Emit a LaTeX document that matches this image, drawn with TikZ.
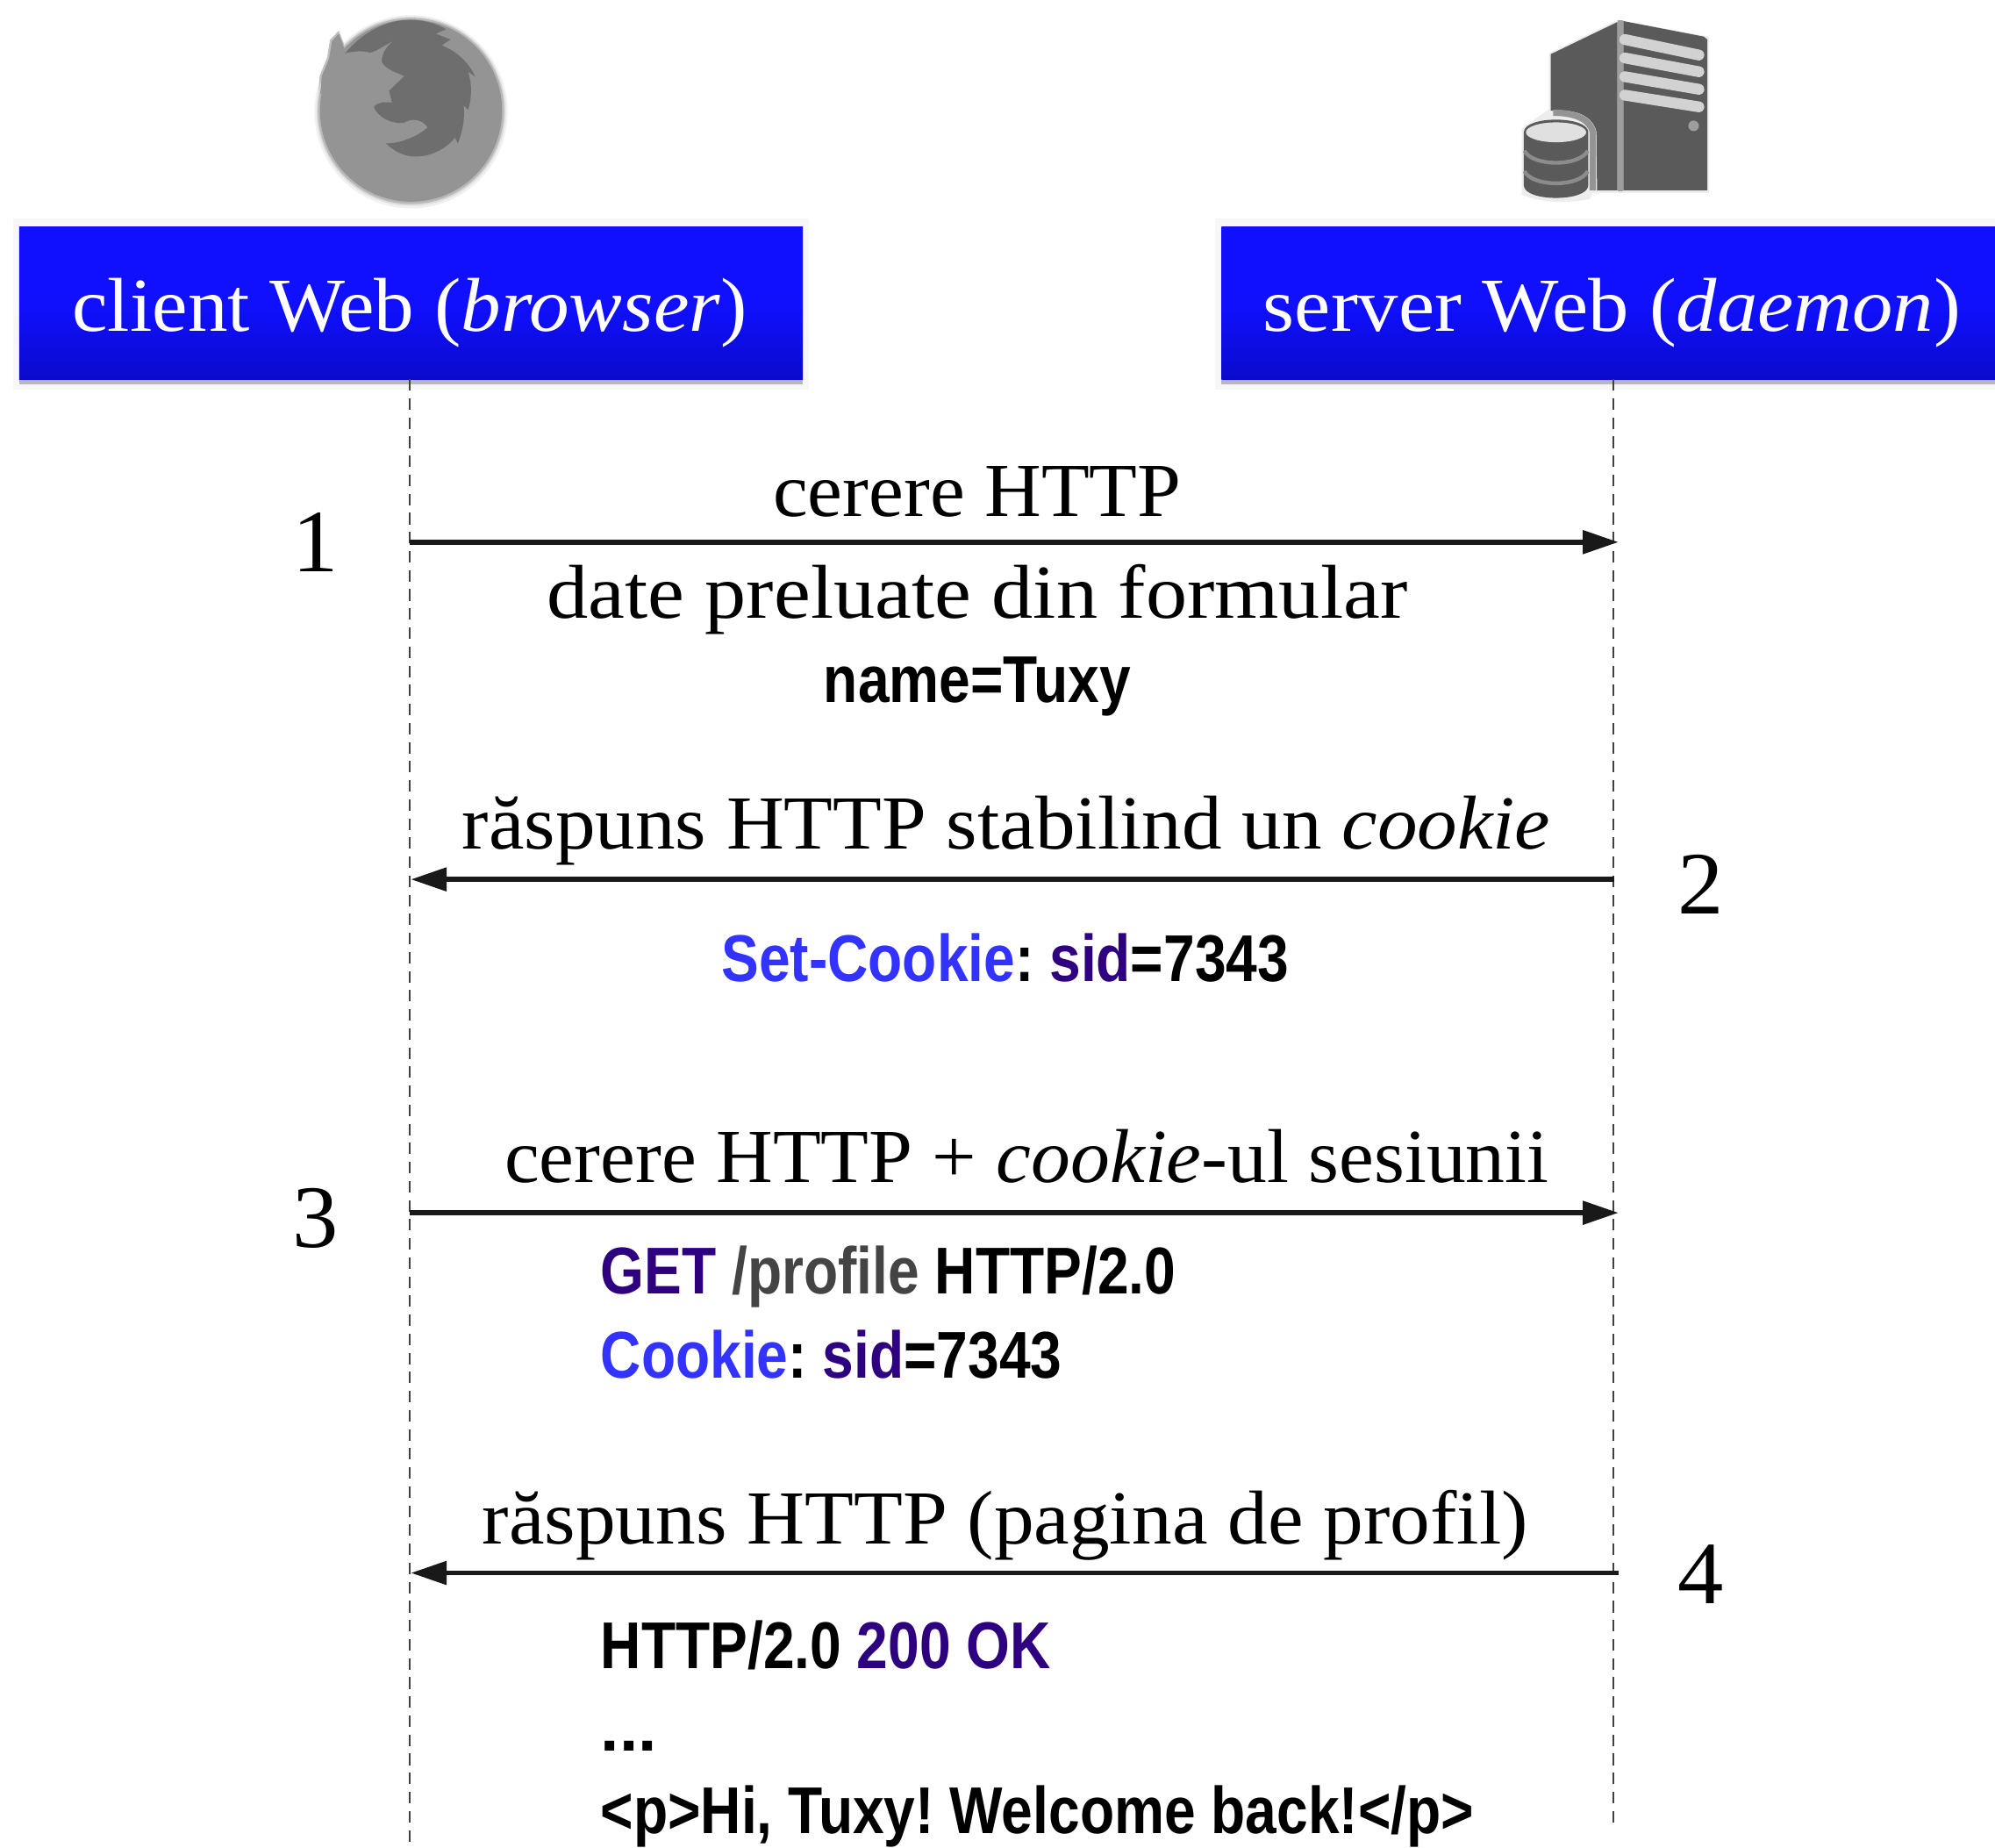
\documentclass[tikz,border=0pt]{standalone}
\usepackage{fontspec}
\setmainfont[FakeStretch=1.03]{Liberation Serif}
\newfontfamily\codefont[FakeStretch=0.85]{Liberation Sans}
\usetikzlibrary{arrows.meta}
\definecolor{hdrtop}{HTML}{1010FF}
\definecolor{hdrbot}{HTML}{0A0ACC}
\definecolor{kwblue}{HTML}{3333FF}
\definecolor{kwpurple}{HTML}{2E0080}
\definecolor{kwgray}{HTML}{444444}
\definecolor{foxlight}{HTML}{949494}
\definecolor{foxdark}{HTML}{6E6E6E}
\definecolor{srvdark}{HTML}{5A5A5A}
\definecolor{srvlight}{HTML}{D2D2D2}
\tikzset{
  x=1pt,y=-1pt,
  hdrbox/.style={minimum width=615pt,minimum height=120pt,inner sep=0pt,draw=none,top color=hdrtop,bottom color=hdrbot,middle color=hdrtop,text=white},
  lbl/.style={anchor=base,inner sep=0pt,font=\fontsize{60}{60}\selectfont,text=black},
  num/.style={anchor=base,inner sep=0pt,font=\fontsize{70}{70}\selectfont,text=black},
  code/.style={anchor=base,inner sep=0pt,font=\codefont\bfseries\fontsize{52}{52}\selectfont,text=black},
  codel/.style={code,anchor=base west},
  life/.style={draw=black!75,line width=1.8pt,dash pattern=on 9pt off 6pt},
  msg/.style={draw=black!90,line width=3.8pt,-{Triangle[length=28pt,width=18pt]}},
  shadow/.style={fill=black!28,draw=none}
}
\begin{document}
\begin{tikzpicture}
\frenchspacing
\useasboundingbox (0,0) rectangle (1568,1452);
\fill[white] (0,0) rectangle (1568,1452);
% header halos and shadows
\fill[black!3] (10,172) rectangle (636,306);
\fill[black!3] (955,172) rectangle (1568,306);
\fill[shadow] (15,290) rectangle (631,302);
\fill[shadow] (960,290) rectangle (1568,302);
% lifelines' heads
\node[hdrbox,minimum width=616pt] (client) at (323,238) {\strut};
\node[hdrbox,minimum width=608pt] (server) at (1264,238) {\strut};
\node[lbl,text=white] (clientlbl) at (322,260) {\scalebox{1.017}[1]{client Web (\textit{browser})}};
\node[lbl,text=white] (serverlbl) at (1267,260) {\scalebox{1.034}[1]{server Web (\textit{daemon})}};
% firefox
\begin{scope}[shift={(206.9,0)},x=0.23pt,y=-0.23pt]
  \fill[black!6] (505,382) circle (330);
  \fill[black!25] (188,322) -- (193,258) -- (218,198) -- (228,136) -- (258,105) -- (292,190) -- (400,300) -- cycle;
  \fill[black!14] (505,380) circle (323);
  \fill[black!28] (505,379) circle (318);
  \fill[foxlight] (505,378) circle (311);
  \fill[foxlight] (195,320) -- (200,260) -- (225,200) -- (235,140) -- (258,115) -- (285,185) -- (400,300) -- cycle;
  \fill[foxdark] (280,182) .. controls (340,110) and (420,68) .. (500,68)
    .. controls (550,68) and (590,80) .. (625,100) -- (590,115) -- (640,135) -- (610,155)
    .. controls (660,175) and (700,210) .. (725,262) -- (700,245)
    .. controls (715,290) and (712,340) .. (700,375) -- (685,360)
    .. controls (690,410) and (680,450) .. (665,490) -- (655,470)
    .. controls (625,510) and (570,535) .. (520,535)
    .. controls (480,535) and (445,515) .. (420,490)
    .. controls (470,490) and (530,465) .. (562,435)
    .. controls (545,410) and (510,400) .. (480,420)
    .. controls (440,425) and (390,400) .. (378,365)
    .. controls (395,345) and (420,350) .. (440,350)
    -- (430,310) -- (482,260)
    .. controls (450,245) and (415,235) .. (405,210)
    .. controls (405,180) and (425,155) .. (445,140)
    .. controls (420,150) and (390,175) .. (365,180)
    .. controls (340,172) and (305,175) .. (280,182) -- cycle;
\end{scope}
% server
\begin{scope}[shift={(1158.6,0)},x=0.23pt,y=-0.23pt]
  % soft edge
  \fill[black!7] (256,182) -- (490,68) -- (803,125) -- (803,660) -- (405,660) -- (395,680) .. controls (320,695) and (230,695) .. (163,665) -- (163,440) -- (256,372) -- cycle;
  \fill[black!38] (490,70) rectangle (510,655);
  \fill[srvdark] (262,185) -- (490,75) -- (490,650) -- (420,650) -- (418,450)
     .. controls (410,410) and (370,378) .. (300,378) -- (262,378) -- cycle;
  \fill[srvdark] (510,72) -- (785,125) -- (797,135) -- (797,650) -- (510,650) -- cycle;
  \draw[srvlight,line width=8.5pt,line cap=round] (515,135) -- (768,188);
  \draw[srvlight,line width=8.5pt,line cap=round] (515,198) -- (768,245);
  \draw[srvlight,line width=8.5pt,line cap=round] (515,262) -- (768,305);
  \draw[srvlight,line width=8.5pt,line cap=round] (515,325) -- (768,365);
  \fill[black!38] (750,430) circle (18);
  \draw[black!42,line width=5pt] (405,650) -- (405,450) .. controls (395,405) and (340,385) .. (270,385);
  \fill[srvdark] (170,450) -- (170,635) .. controls (175,690) and (385,690) .. (390,635) -- (390,450) .. controls (385,395) and (175,395) .. (170,450) -- cycle;
  \fill[black!12] (280,452) ellipse (103 and 34);
  \draw[black!45,line width=3pt] (172,515) .. controls (200,570) and (360,570) .. (388,515);
  \draw[black!45,line width=3pt] (172,585) .. controls (200,640) and (360,640) .. (388,585);
\end{scope}
% lifelines
\coordinate (clientend) at (322,1450);
\coordinate (serverend) at (1268,1435);
\draw[life] (322,298) -- (clientend);
\draw[life] (1268,298) -- (serverend);
% message anchors
\coordinate (c1) at (322,426);
\coordinate (s1) at (1272,426);
\coordinate (c2) at (323,691);
\coordinate (s2) at (1269,691);
\coordinate (c3) at (322,953);
\coordinate (s3) at (1272,953);
\coordinate (c4) at (323,1236);
\coordinate (s4) at (1272,1236);
\draw[msg] (c1) -- (s1);
\draw[msg] (s2) -- (c2);
\draw[msg] (c3) -- (s3);
\draw[msg] (s4) -- (c4);
% numbers
\node[num] (n1) at (248,449) {1};
\node[num] (n2) at (1337,718) {2};
\node[num] (n3) at (248,980) {3};
\node[num] (n4) at (1337,1260) {4};
% labels
\node[lbl] (m1) at (768,406) {cerere HTTP};
\node[lbl] (m1b) at (768,486) {\scalebox{1.051}[1]{date preluate din formular}};
\node[code] (c1b) at (768,552) {name=Tuxy};
\node[lbl] (m2) at (791,667) {\scalebox{1.017}[1]{răspuns HTTP stabilind un \textit{cookie}}};
\node[code] (c2b) at (790,771) {\textcolor{kwblue}{Set-Cookie}: \textcolor{kwpurple}{sid}=7343};
\node[lbl] (m3) at (807,929) {cerere HTTP + \textit{cookie}-ul sesiunii};
\node[codel] (c3a) at (472,1017) {\textcolor{kwpurple}{GET} \textcolor{kwgray}{/profile} HTTP/2.0};
\node[codel] (c3b) at (472,1083) {\textcolor{kwblue}{Cookie}: \textcolor{kwpurple}{sid}=7343};
\node[lbl] (m4) at (790,1213) {\scalebox{1.019}[1]{răspuns HTTP (pagina de profil)}};
\node[codel] (c4a) at (472,1311) {HTTP/2.0 \textcolor{kwpurple}{200 OK}};
\node[codel] (c4b) at (472,1376) {\scalebox{1.2}[1]{...}};
\node[codel] (c4c) at (472,1441) {<p>Hi, Tuxy! Welcome back!</p>};
\end{tikzpicture}
\end{document}
